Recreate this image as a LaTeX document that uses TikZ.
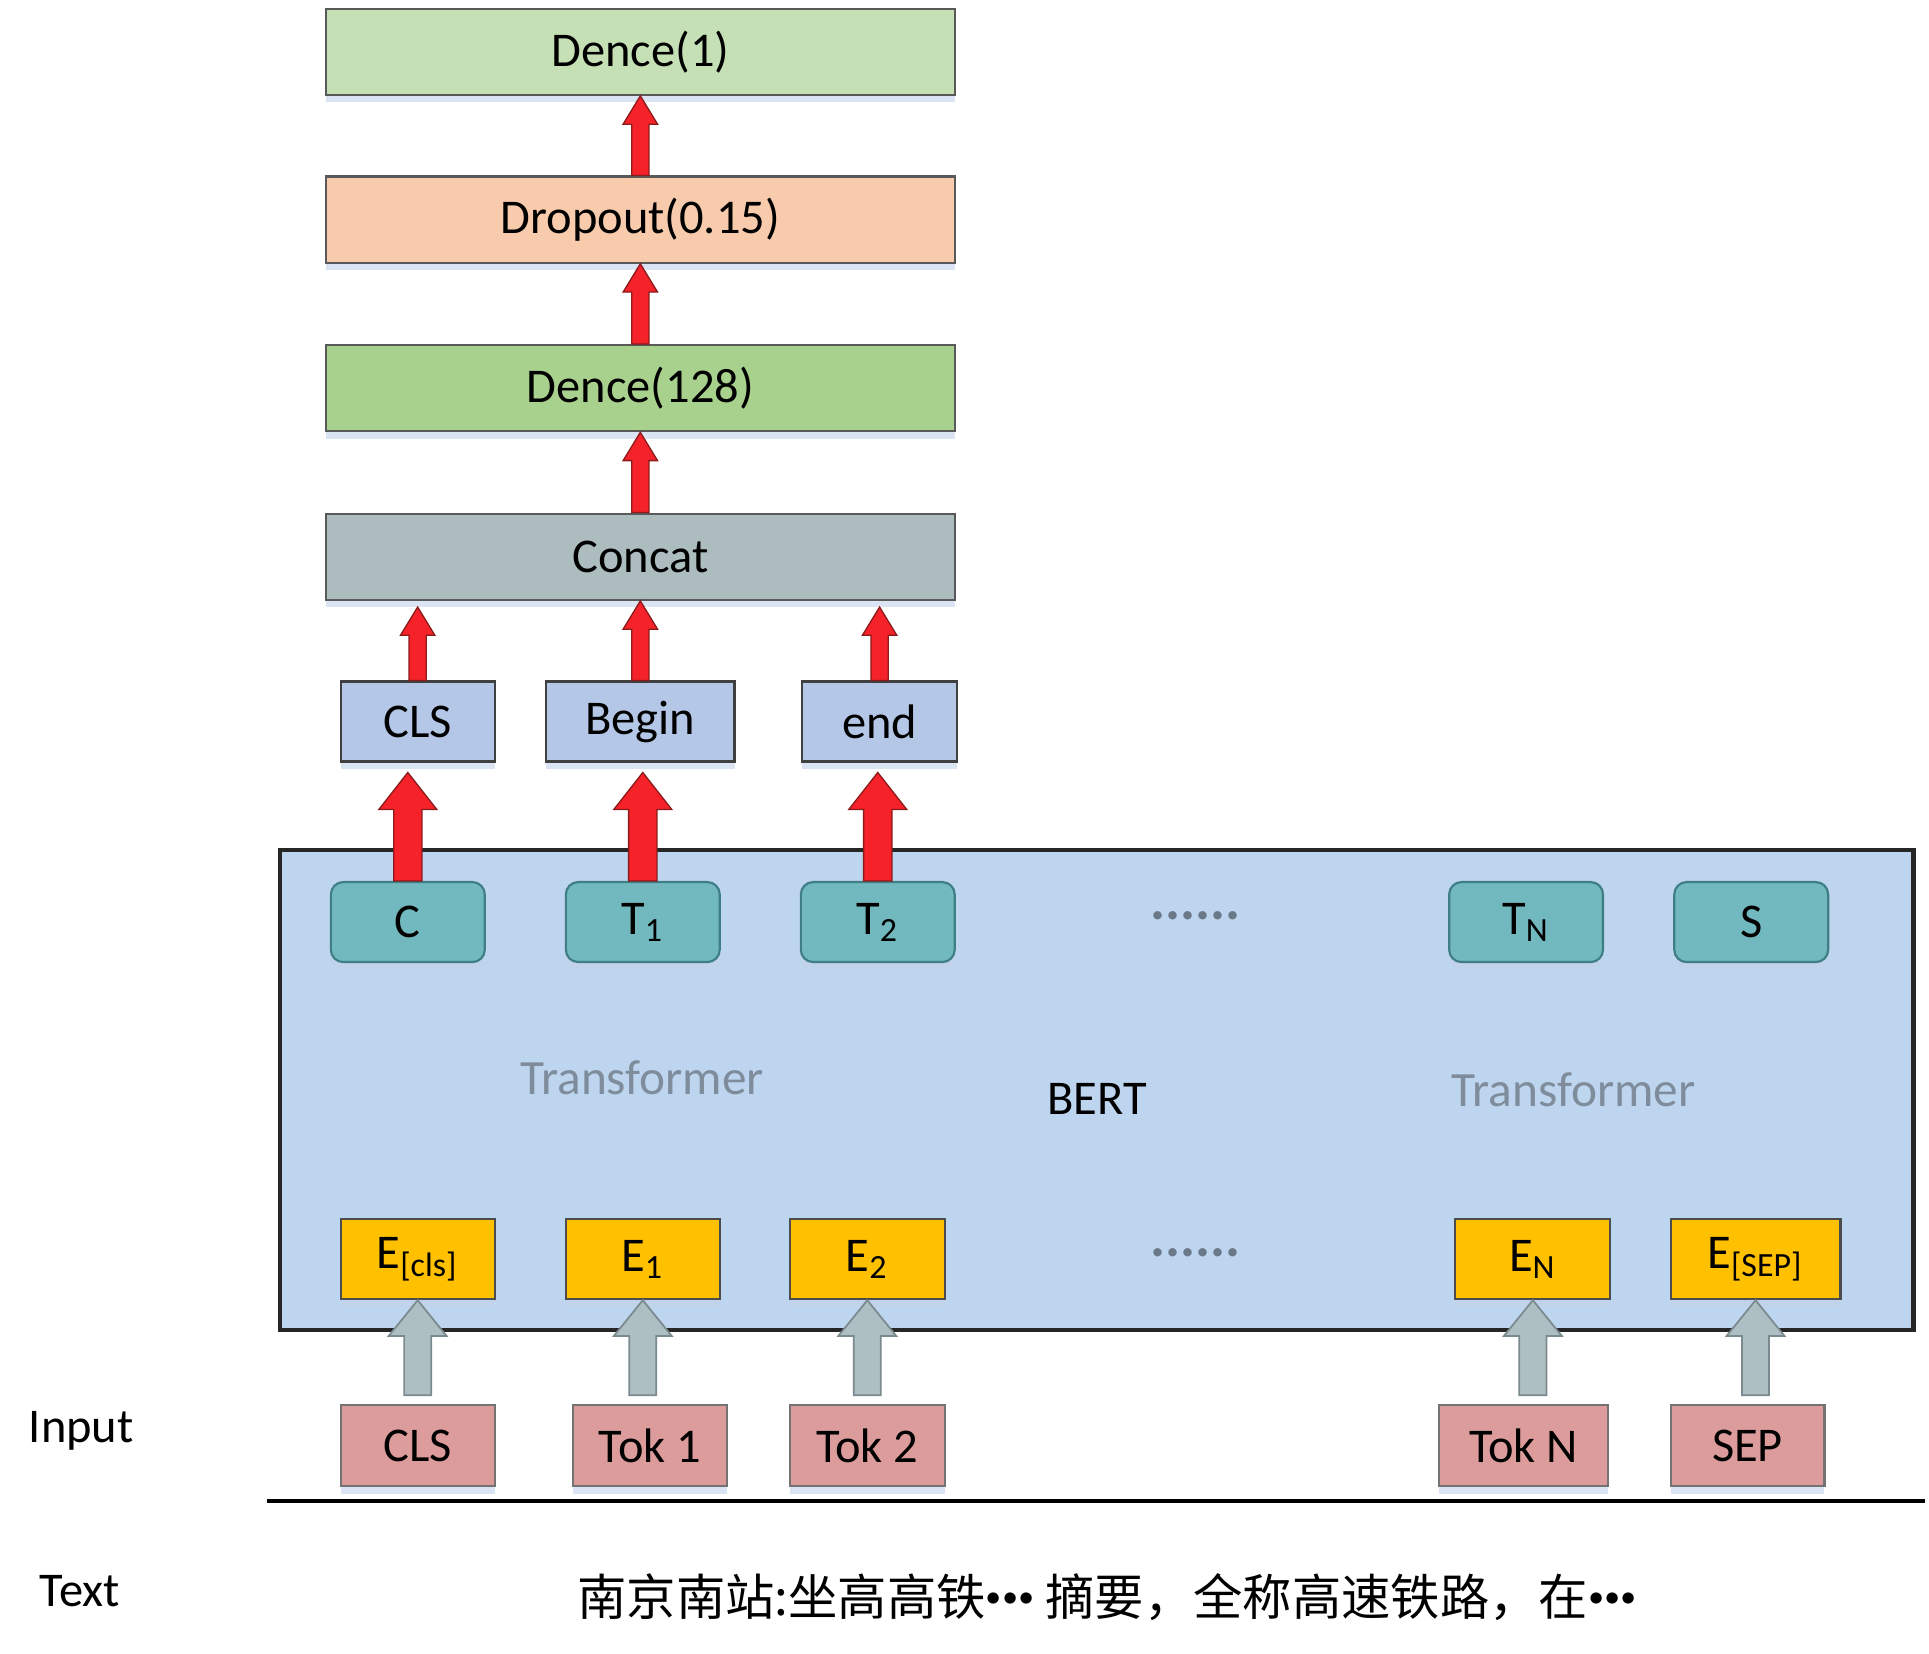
\documentclass[tikz,border=0pt]{standalone}
\usepackage{fontspec}
\setmainfont{Carlito}
\newfontfamily\cjkfont{Noto Sans CJK SC}
\usetikzlibrary{calc,shadows}
\definecolor{cdA}{HTML}{C5E0B4}
\definecolor{cdrop}{HTML}{F8CBAD}
\definecolor{cdB}{HTML}{A9D18E}
\definecolor{cconcat}{HTML}{ACBCBF}
\definecolor{csel}{HTML}{B4C7E7}
\definecolor{cbert}{HTML}{BDD5EE}
\definecolor{cteal}{HTML}{71B9BE}
\definecolor{ctealb}{HTML}{3E7E84}
\definecolor{cyel}{HTML}{FFC000}
\definecolor{ctok}{HTML}{DD9C9C}
\definecolor{cgarr}{HTML}{ADBFC2}
\definecolor{cgarrb}{HTML}{7A8A8E}
\definecolor{cred}{HTML}{F5222A}
\definecolor{credb}{HTML}{8B1A1A}
\definecolor{ctrans}{HTML}{7F8C9C}
\definecolor{cdots}{HTML}{6A7888}
\definecolor{cshadow}{HTML}{C3D2EA}
\newcommand{\lblfont}{\fontsize{11.2}{13}\selectfont}
\newcommand{\cdotsbold}{{\fontspec{Carlito}\bfseries\fontsize{14}{15}\selectfont ···}}
% #1 style, #2 from, #3 to, #4 shaft half width, #5 head half width, #6 head length
\newcommand{\blockarr}[6]{%
  \path[#1] let \p1=(#2), \p2=(#3) in
    (\x1-#4,\y1) -- (\x1-#4,\y2-#6) -- (\x1-#5,\y2-#6) -- (\x1,\y2)
    -- (\x1+#5,\y2-#6) -- (\x1+#4,\y2-#6) -- (\x1+#4,\y1) -- cycle;}
\begin{document}
\begin{tikzpicture}[x=0.01cm,y=-0.01cm,
  shad/.style={drop shadow={shadow xshift=0cm,shadow yshift=-0.06cm,fill=cshadow,opacity=0.6}},
  layer/.style={draw=black!65,line width=0.5pt,minimum width=5.11cm,minimum height=0.70cm,font=\lblfont,inner sep=0pt,shad},
  selbox/.style={draw=black!75,line width=0.5pt,fill=csel,minimum height=0.65cm,font=\lblfont,inner sep=0pt,shad},
  tnode/.style={draw=ctealb,line width=0.5pt,fill=cteal,rounded corners=0.1cm,minimum width=1.25cm,minimum height=0.65cm,font=\lblfont,inner sep=0pt,shad},
  enode/.style={draw=black!70,line width=0.5pt,fill=cyel,minimum height=0.65cm,font=\lblfont,inner sep=0pt,shad},
  toknode/.style={draw=black!55,line width=0.5pt,fill=ctok,minimum height=0.66cm,font=\lblfont,inner sep=0pt,shad},
  redarr/.style={fill=cred,draw=credb,line width=0.3pt},
  grayarr/.style={fill=cgarr,draw=cgarrb,line width=0.4pt},
  trans/.style={text=ctrans,font=\fontsize{11.4}{13}\selectfont},
  dotsnode/.style={text=cdots,font=\fontsize{13}{15}\selectfont\bfseries,inner sep=0pt},
  plain/.style={font=\lblfont}]
\useasboundingbox (0,0) rectangle (1568,1344);
% top stack
\node[layer,fill=cdA] (dence1) at (520.5,42) {Dence(1)};
\node[layer,fill=cdrop] (dropout) at (520.5,178.5) {Dropout(0.15)};
\node[layer,fill=cdB] (dence128) at (520.5,315.5) {Dence(128)};
\node[layer,fill=cconcat] (concat) at (520.5,452.5) {Concat};
% selected outputs
\node[selbox,minimum width=1.25cm] (cls) at (339.5,586.5) {CLS};
\node[selbox,minimum width=1.53cm] (begin) at (520.5,586.5) {Begin};
\node[selbox,minimum width=1.26cm] (endn) at (715,586.5) {end};
% BERT
\node[draw=black!85,line width=1.1pt,fill=cbert,minimum width=13.27cm,minimum height=3.90cm] (bert) at (891.5,886) {};
\node[plain] (bertlbl) at (892,893) {BERT};
\node[trans] (tr1) at (522,876) {Transformer};
\node[trans] (tr2) at (1279,886) {Transformer};
\node[tnode] (tc) at (331.5,749.5) {C};
\node[tnode] (t1) at (522.5,749.5) {T\textsubscript{1}};
\node[tnode] (t2) at (713.5,749.5) {T\textsubscript{2}};
\node[tnode] (tn) at (1240.5,749.5) {T\textsubscript{N}};
\node[tnode] (ts) at (1423.5,749.5) {S};
\node[dotsnode] (dtop) at (972,744) {......};
\node[enode,minimum width=1.25cm] (ecls) at (339.5,1023.5) {E\textsubscript{[cls]}};
\node[enode,minimum width=1.25cm] (e1) at (522.5,1023.5) {E\textsubscript{1}};
\node[enode,minimum width=1.26cm] (e2) at (705,1023.5) {E\textsubscript{2}};
\node[enode,minimum width=1.26cm] (en) at (1246,1023.5) {E\textsubscript{N}};
\node[enode,minimum width=1.38cm] (esep) at (1427,1023.5) {E\textsubscript{[SEP]}};
\node[dotsnode] (dbot) at (972,1018) {......};
% tokens
\node[toknode,minimum width=1.25cm] (kcls) at (339.5,1175) {CLS};
\node[toknode,minimum width=1.25cm] (k1) at (528.5,1175) {Tok 1};
\node[toknode,minimum width=1.26cm] (k2) at (705,1175) {Tok 2};
\node[toknode,minimum width=1.37cm] (kn) at (1238.5,1175) {Tok N};
\node[toknode,minimum width=1.25cm] (ksep) at (1420.5,1175) {SEP};
% arrows in the top stack
\blockarr{redarr}{dence128.north}{dropout.south}{0.07cm}{0.14cm}{0.23cm}
\blockarr{redarr}{dropout.north}{dence1.south}{0.07cm}{0.14cm}{0.23cm}
\blockarr{redarr}{concat.north}{dence128.south}{0.07cm}{0.14cm}{0.23cm}
\blockarr{redarr}{cls.north}{$(concat.south)+(0,5)$}{0.07cm}{0.14cm}{0.23cm}
\blockarr{redarr}{begin.north}{concat.south}{0.07cm}{0.14cm}{0.23cm}
\blockarr{redarr}{endn.north}{$(concat.south)+(0,5)$}{0.07cm}{0.14cm}{0.23cm}
% big red arrows from BERT outputs
\blockarr{redarr}{tc.north}{$(cls.south)+(0,8)$}{0.115cm}{0.235cm}{0.30cm}
\blockarr{redarr}{t1.north}{$(begin.south)+(0,8)$}{0.115cm}{0.235cm}{0.30cm}
\blockarr{redarr}{t2.north}{$(endn.south)+(0,8)$}{0.115cm}{0.235cm}{0.30cm}
% gray input arrows
\blockarr{grayarr}{$(ecls.south |- kcls.north)+(0,-7)$}{ecls.south}{0.11cm}{0.235cm}{0.29cm}
\blockarr{grayarr}{$(e1.south |- k1.north)+(0,-7)$}{e1.south}{0.11cm}{0.235cm}{0.29cm}
\blockarr{grayarr}{$(e2.south |- k2.north)+(0,-7)$}{e2.south}{0.11cm}{0.235cm}{0.29cm}
\blockarr{grayarr}{$(en.south |- kn.north)+(0,-7)$}{en.south}{0.11cm}{0.235cm}{0.29cm}
\blockarr{grayarr}{$(esep.south |- ksep.north)+(0,-7)$}{esep.south}{0.11cm}{0.235cm}{0.29cm}
% baseline rule
\coordinate (la) at (217,1220);
\coordinate (lb) at (1565,1220);
\draw[line width=0.9pt] (la) -- (lb);
% row labels
\node[plain] (inputlbl) at (66,1163) {Input};
\node[plain] (textlbl) at (65,1293) {Text};
\node[font=\cjkfont\fontsize{11.4}{13}\selectfont] (txt) at (900,1298) {南京南站:坐高高铁\cdotsbold{} 摘要，全称高速铁路，在\cdotsbold};
\end{tikzpicture}
\end{document}
